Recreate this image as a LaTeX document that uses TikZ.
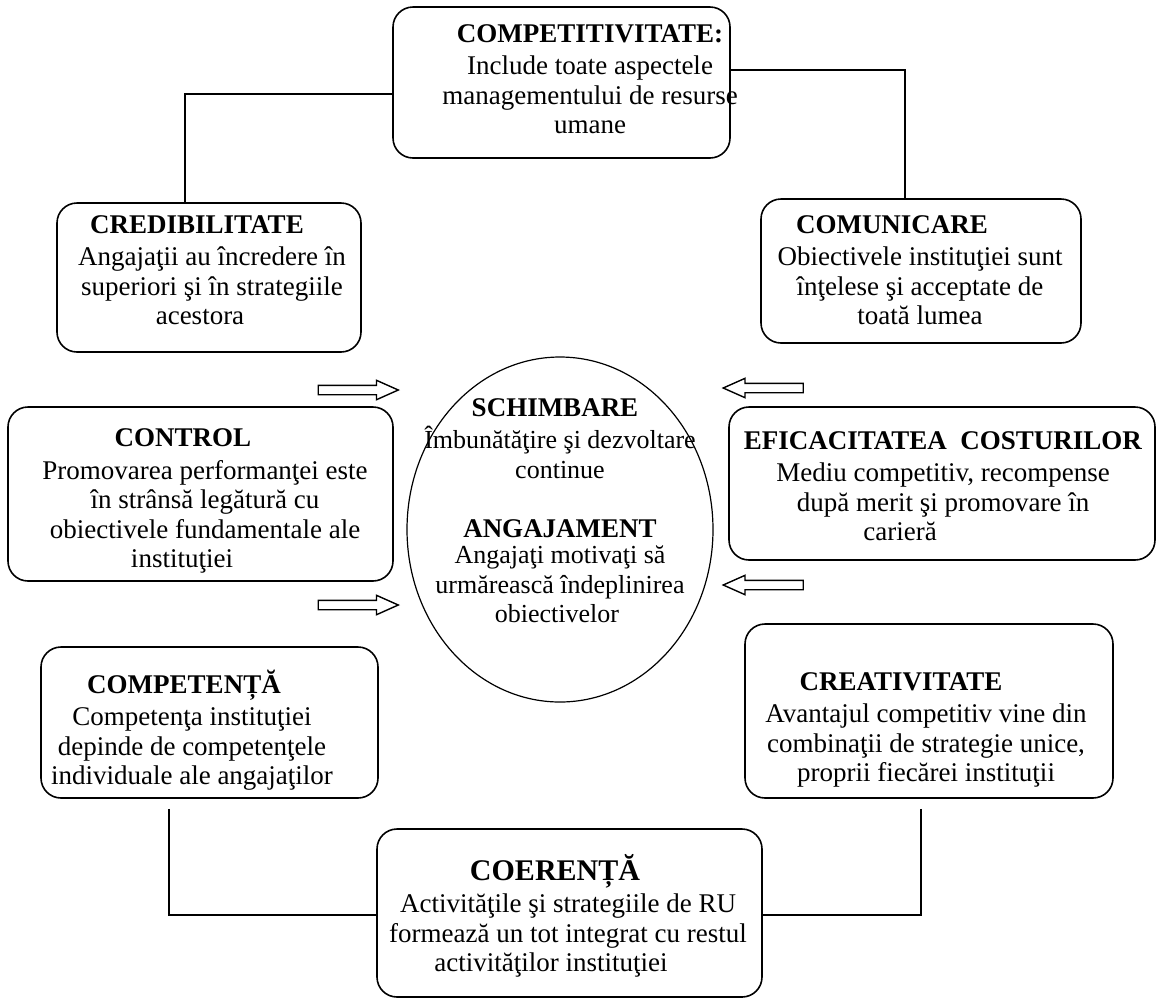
\documentclass[tikz,border=0pt]{standalone}
\usepackage{fontspec}
\setmainfont{Liberation Serif}
\usetikzlibrary{shapes.geometric,shapes.arrows}
\newcommand\nudge[2]{#2\hspace*{#1pt}}

\begin{document}
\begin{tikzpicture}[
  x=0.5pt,y=-0.5pt,
  font=\fontsize{13.5}{14.75}\selectfont,
  box/.style={rectangle,rounded corners=10pt,draw,line width=0.8pt,inner sep=0pt},
  txt/.style={align=center,inner sep=0pt},
  core/.style={ellipse,draw,line width=0.6pt,inner sep=0pt},
  link/.style={line width=0.7pt},
  fat/.style={single arrow,draw,line width=0.7pt,inner xsep=0pt,inner ysep=2pt,
              single arrow head extend=2.5pt,single arrow tip angle=48,
              minimum height=40pt,minimum width=9pt}
]
\useasboundingbox (0,0) rectangle (1156,998);
% top
\node[box,minimum width=168.5pt,minimum height=75.5pt] (compet) at (561.5,82.5) {};
\node[txt] (competT) at (590,79) {\textbf{COMPETITIVITATE:}\\[1.5pt]
  Include toate aspectele\\ managementului de resurse\\ umane};
% second row
\node[box,minimum width=152pt,minimum height=74.5pt] (cred) at (209,277.5) {};
\node[txt] (credT) at (212,270) {\nudge{15}{\textbf{CREDIBILITATE}}\\[1.5pt]
  Angajaţii au încredere în\\ superiori şi în strategiile\\ \nudge{12}{acestora}};
\node[box,minimum width=160pt,minimum height=72pt] (comun) at (921,271) {};
\node[txt] (comunT) at (920,270) {\nudge{28}{\textbf{COMUNICARE}}\\[1.5pt]
  Obiectivele instituţiei sunt\\ înţelese şi acceptate de\\ toată lumea};
% centre
\node[core,minimum width=153pt,minimum height=172.5pt] (core) at (560,529.5) {};
\node[txt,font=\fontsize{13}{14.75}\selectfont] (coreT) at (560,510.5) {\nudge{5}{\fontsize{13.5}{14.75}\selectfont\textbf{SCHIMBARE}}\\[1.5pt]
  Îmbunătăţire şi dezvoltare\\ \nudge{9}{continue}\\[14.75pt]
  \nudge{-8}{\fontsize{13.5}{14.75}\selectfont\textbf{ANGAJAMENT}}\\[-1.5pt]
  \nudge{9}{Angajaţi motivaţi să}\\ \nudge{-5}{urmărească îndeplinirea}\\ \nudge{3}{obiectivelor}};
% middle row
\node[box,minimum width=192.5pt,minimum height=87pt] (control) at (200.5,494) {};
\node[txt] (controlT) at (205,501) {\nudge{22}{\textbf{CONTROL}}\\[1.5pt]
  Promovarea performanţei este\\ \nudge{8}{în strânsă legătură cu}\\
  obiectivele fundamentale ale\\ \nudge{23}{instituţiei}};
\node[box,minimum width=213pt,minimum height=76.5pt] (efic) at (942,483.5) {};
\node[txt] (eficT) at (943,486) {\textbf{EFICACITATEA\ \ COSTURILOR}\\[1.5pt]
  \nudge{11}{Mediu competitiv, recompense}\\ \nudge{17}{după merit şi promovare în}\\
  \nudge{43}{carieră}};
% arrows towards the centre
\node[fat] (inL1) at (353,390) {};
\node[fat] (inL2) at (353,605) {};
\node[fat,shape border rotate=180] (inR1) at (768.5,388) {};
\node[fat,shape border rotate=180] (inR2) at (768.5,585) {};
% lower row
\node[box,minimum width=168.5pt,minimum height=75.5pt] (compt) at (209.5,722.5) {};
\node[txt] (comptT) at (192,730) {\nudge{8}{\textbf{COMPETENȚĂ}}\\[1.5pt]
  Competenţa instituţiei\\ depinde de competenţele\\ individuale ale angajaţilor};
\node[box,minimum width=184pt,minimum height=87pt] (creat) at (929,711) {};
\node[txt] (creatT) at (926,730) {\nudge{25}{\textbf{CREATIVITATE}}\\[1.5pt]
  \nudge{5}{Avantajul competitiv vine din}\\ combinaţii de strategie unice,\\
  proprii fiecărei instituţii};
% bottom
\node[box,minimum width=192.5pt,minimum height=84pt] (coer) at (569.5,913) {};
\node[txt] (coerT) at (568,916) {\nudge{13}{{\fontsize{15}{16}\selectfont\textbf{COERENȚĂ}}}\\[1.5pt]
  Activităţile şi strategiile de RU\\ formează un tot integrat cu restul\\
  \nudge{17}{activităţilor instituţiei}};
% connectors
\draw[link] ([yshift=-5.75pt]compet.west) -| ([xshift=-12pt]cred.north);
\draw[link] ([yshift=6.25pt]compet.east) -| ([xshift=-8pt]comun.north);
\draw[link] ([xshift=-20.25pt,yshift=-5pt]compt.south) |- ([yshift=-1pt]coer.west);
\draw[link] ([xshift=-4pt,yshift=-5pt]creat.south) |- ([yshift=-1pt]coer.east);
\end{tikzpicture}
\end{document}
